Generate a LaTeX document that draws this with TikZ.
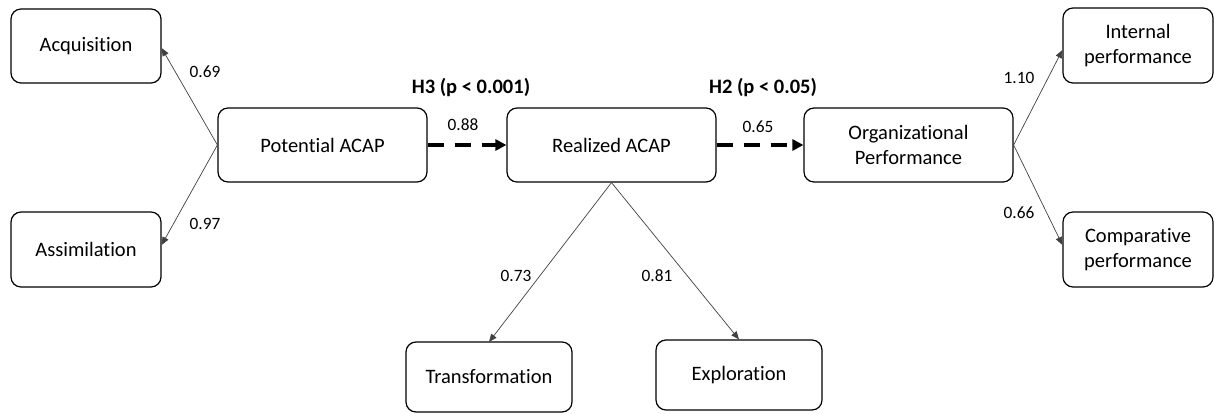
\documentclass[tikz,border=0pt]{standalone}
\usepackage{fontspec}
\setmainfont{Carlito}[Ligatures=NoCommon]
\usetikzlibrary{arrows.meta}
\begin{document}
\begin{tikzpicture}[x=1pt,y=-1pt,
  box/.style={draw=black,line width=1.2pt,rounded corners=10pt,inner sep=0pt,align=center,
    font=\fontsize{20.5}{24.5}\selectfont},
  thin/.style={draw=black!75,line width=0.7pt,-{Triangle[length=8pt,width=6.5pt]}},
  thick/.style={draw=black,line width=4pt,dash pattern=on 16pt off 11pt,-{Triangle[length=11pt,width=11pt]}},
  num/.style={font=\fontsize{17.3}{20}\selectfont,inner sep=0pt},
  hyp/.style={font=\fontsize{20.5}{24}\selectfont\bfseries,inner sep=0pt}]
\useasboundingbox (0,0) rectangle (1214,414);
\node[box,minimum width=150pt,minimum height=74pt] (acq) at (86,46) {Acquisition};
\node[box,minimum width=150pt,minimum height=75pt] (ass) at (86,249.5) {Assimilation};
\node[box,minimum width=209pt,minimum height=74pt] (pot) at (322.5,145) {Potential ACAP};
\node[box,minimum width=209pt,minimum height=74pt] (rea) at (611.5,145) {Realized ACAP};
\node[box,minimum width=209pt,minimum height=74pt] (org) at (908.5,145) {Organizational\\Performance};
\node[box,minimum width=150pt,minimum height=75pt] (int) at (1138,45.5) {Internal\\performance};
\node[box,minimum width=150pt,minimum height=75pt] (cmp) at (1138,249.5) {Comparative\\performance};
\node[box,minimum width=166pt,minimum height=70pt] (tra) at (489,377) {Transformation};
\node[box,minimum width=166pt,minimum height=70pt] (exp) at (739,375) {Exploration};
\draw[thin] (pot.west) -- (acq.east |- 0,48);
\draw[thin] (pot.west) -- (ass.east |- 0,245);
\draw[thin] (rea.south) -- (tra.north |- 490,342);
\draw[thin] (rea.south) -- (exp.north);
\draw[thin] (org.east) -- (int.west |- 0,50);
\draw[thin] (org.east) -- (cmp.west |- 0,245);
\draw[thick] (pot.east) -- (rea.west);
\draw[thick] (rea.east) -- (org.west);
\node[num] (l1) at (205,72) {0.69};
\node[num] (l2) at (205,224) {0.97};
\node[num] (l3) at (463,125) {0.88};
\node[num] (l4) at (758,127) {0.65};
\node[num] (l5) at (1019,78) {1.10};
\node[num] (l6) at (1019,213) {0.66};
\node[num] (l7) at (516,276) {0.73};
\node[num] (l8) at (657,276) {0.81};
\node[hyp] (h3) at (471,88) {H3 (p < 0.001)};
\node[hyp] (h2) at (763,88) {H2 (p < 0.05)};
\end{tikzpicture}
\end{document}
